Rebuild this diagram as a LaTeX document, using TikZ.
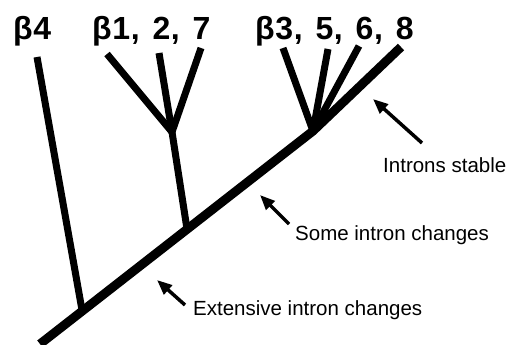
\documentclass[tikz,border=0pt]{standalone}
\usepackage{fontspec}
\setmainfont{Liberation Sans}
\newfontfamily\cladefont[WordSpace=1.35,LetterSpace=2]{Liberation Sans}
\usetikzlibrary{arrows.meta}
\tikzset{
  trunk/.style={line width=9pt, line cap=butt, line join=round},
  branch/.style={line width=7pt, line cap=butt},
  clade/.style={anchor=base west, inner sep=0pt, font=\cladefont\bfseries\fontsize{32}{34}\selectfont},
  note/.style={anchor=base west, inner sep=0pt, font=\fontsize{20.5}{22}\selectfont},
  pointer/.style={line width=3.5pt, -{Triangle[length=15pt,width=12pt]}},
}
\begin{document}
\begin{tikzpicture}[x=1pt, y=-1pt]
  \useasboundingbox (0,0) rectangle (511,345);

  % branch points on the main stem
  \coordinate (root) at (40,344);
  \coordinate (j4)   at (82,310);
  \coordinate (j127) at (187,229);
  \coordinate (j358) at (313,131);

  % tips
  \coordinate (t4) at (37,57);
  \coordinate (c127) at (172,132);
  \coordinate (t1) at (107,54);
  \coordinate (t2) at (159,53);
  \coordinate (t7) at (201,48);
  \coordinate (t3) at (283,48);
  \coordinate (t5) at (328,49);
  \coordinate (t6) at (359,46);
  \coordinate (t8) at (401,47);

  % main stem, running on into the beta8 tip
  \draw[trunk] (root) -- (j358) -- (t8);

  % beta4
  \draw[branch] (j4) -- (t4);

  % beta1, 2, 7
  \draw[branch] (j127) -- (c127);
  \draw[branch] (c127) -- (t1);
  \draw[branch] (c127) -- (t2);
  \draw[branch] (c127) -- (t7);

  % beta3, 5, 6
  \draw[branch] (j358) -- (t3);
  \draw[branch] (j358) -- (t5);
  \draw[branch] (j358) -- (t6);

  % clade labels
  \node[clade] (l4)   at (13,40)  {β4};
  \node[clade] (l127) at (92,40)  {β1, 2, 7};
  \node[clade] (l358) at (255,40) {β3, 5, 6, 8};

  % annotations
  \node[note] (nstable) at (383,172) {Introns stable};
  \node[note] (nsome)   at (295,240) {Some intron changes};
  \node[note] (next)    at (193,315) {Extensive intron changes};

  \coordinate (astable) at (373,99);
  \coordinate (asome)   at (260,195);
  \coordinate (aext)    at (157,280);
  \coordinate (bstable) at (422,143);
  \coordinate (bsome)   at (289,224);
  \coordinate (bext)    at (185,305);

  \draw[pointer] (bstable) -- (astable);
  \draw[pointer] (bsome) -- (asome);
  \draw[pointer] (bext) -- (aext);
\end{tikzpicture}
\end{document}
